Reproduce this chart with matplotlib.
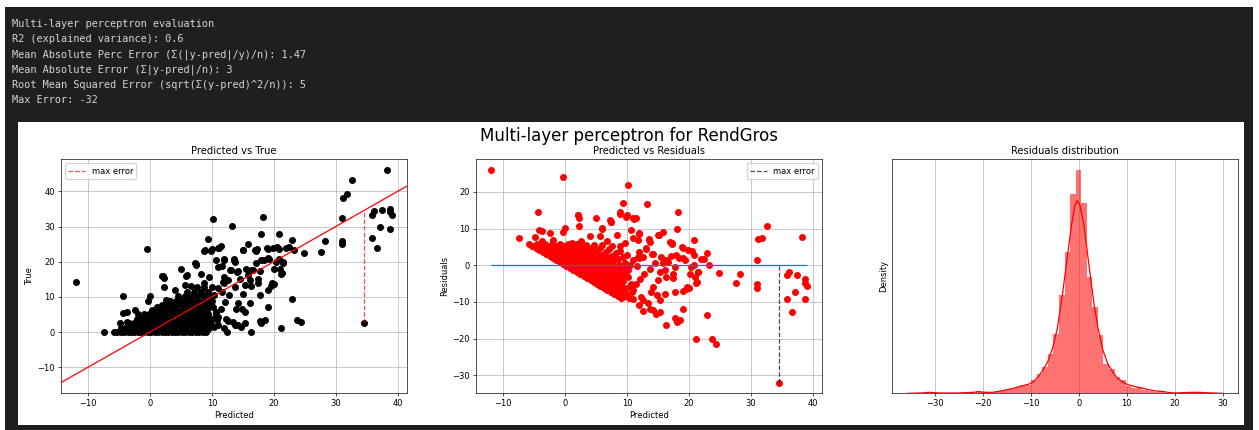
import numpy as np
import matplotlib
matplotlib.use("Agg")
import matplotlib.pyplot as plt
from matplotlib.patches import Rectangle

# ---------------- data ----------------
report_lines = [
    "Multi-layer perceptron evaluation",
    "R2 (explained variance): 0.6",
    "Mean Absolute Perc Error (\u03a3(|y-pred|/y)/n): 1.47",
    "Mean Absolute Error (\u03a3|y-pred|/n): 3",
    "Root Mean Squared Error (sqrt(\u03a3(y-pred)^2/n)): 5",
    "Max Error: -32",
]

# samples whose true value is 0 (predicted values)
pred_zero = [-7.4, -5.8, -5.3, -4.7, -4.2, -3.6, -3.1, -2.5, -2.0, -1.4, -0.9, -0.3,
             0.2, 0.8, 1.3, 1.9, 2.4, 3.0, 3.5, 4.1, 4.6, 5.2, 5.7, 6.3, 6.8, 7.4,
             7.9, 8.5, 9.0, 12.5, 16.3]

# dense cluster: true level and the predicted values found at that level
cluster_true = [1.2, 2.5, 3.8, 5.0, 6.3, 7.6, 8.9, 10.2, 11.5, 12.8, 14.0]
cluster_rows = [
    [-4.6, -4.0, -3.4, -2.8, -2.3, -1.7, -1.1, -0.5, 0.1, 0.7, 1.2, 1.8, 2.4, 3.0,
     3.6, 4.1, 4.7, 5.3, 5.9, 6.4, 7.0, 7.6, 8.2, 8.8, 9.4],
    [-3.3, -2.6, -1.9, -1.2, -0.6, 0.1, 0.8, 1.5, 2.2, 2.9, 3.6, 4.3, 5.0, 5.7, 6.4,
     7.1, 7.8, 8.5, 9.2],
    [-2.1, -1.4, -0.7, 0.0, 0.7, 1.4, 2.1, 2.8, 3.5, 4.2, 4.9, 5.6, 6.3, 7.0, 7.7,
     8.4, 9.1, 9.9],
    [-0.9, -0.2, 0.6, 1.3, 2.0, 2.8, 3.5, 4.2, 5.0, 5.7, 6.4, 7.2, 7.9, 8.6, 9.4],
    [0.4, 1.2, 2.0, 2.8, 3.6, 4.4, 5.2, 6.0, 6.8, 7.6, 8.4, 9.2],
    [1.9, 2.7, 3.6, 4.4, 5.3, 6.1, 7.0, 7.8, 8.7, 9.5],
    [3.3, 4.2, 5.1, 6.0, 6.9, 7.8, 8.7, 9.6],
    [4.6, 5.6, 6.6, 7.6, 8.6, 9.6],
    [6.0, 7.1, 8.2, 9.3, 11.6],
    [7.6, 8.8, 10.0],
    [8.8, 12.0],
]

# scattered samples (predicted, true)
scatter_pred = [
    -11.9, -0.4, 10.2, 13.3, 18.2, 32.6, 31.1, 31.8, 38.3, 31.0, 31.0, 31.0, 27.6, 28.3,
    24.8, 22.9, 23.2, 22.5, 21.5, 21.0, 21.1, 22.9, 23.7, 24.4, 21.1, 17.7, 18.5, 18.0,
    19.1, 15.3, 14.7, 34.6, 35.9, 36.2, 35.9, 36.7, 37.5, 37.2, 38.7, 38.8, 39.0, 38.7,
    9.4, 18.0, 20.8, 15.8,
    -4.4, -4.9, -4.3, -3.7, -3.7, -2.4, -1.9, -0.3, 0.0, 2.1, 2.3, 2.3, 5.0, 5.9, 7.2,
    8.9, 10.0, 11.0, 11.5, 10.7, 12.0, 15.0, 11.0, 13.6, 1.1, 2.6, 4.0, 5.6, 6.7, 8.3,
    9.6, 13.1, 14.2, 15.5, 12.6, 6.0, 7.4, 9.9, 8.8,
    11.9, 11.7, 13.5, 13.7, 13.0, 14.1, 15.1, 16.9, 17.2, 17.1, 17.9, 18.4, 19.0, 19.0,
    19.3, 19.9, 20.5, 20.9, 20.4, 20.1, 20.0, 19.5, 19.0, 17.7, 17.4, 17.8, 16.3, 16.1,
    15.3, 15.0, 14.2, 13.9, 14.8, 15.3, 13.4, 12.6, 12.3, 12.0, 13.7, 14.2, 11.0, 11.0,
    11.5, 12.1, 12.8, 13.7, 14.5, 15.8, 16.3, 9.4, 9.9, 10.7, 10.2, 9.6, 10.4, 11.0,
    11.8, 12.0,
    16.2, 16.7, 17.4, 19.7, 21.3, 21.5, 20.9, 22.0, 17.3, 18.9, 11.1, 2.0, 7.4,
    10.3, 10.6, 10.1, 10.8,
]
scatter_true = [
    14.1, 23.6, 32.2, 30.1, 32.7, 43.2, 38.2, 39.3, 46.0, 32.4, 26.0, 24.9, 22.8, 25.9,
    22.6, 26.3, 23.2, 24.2, 19.7, 17.8, 16.4, 9.3, 3.5, 3.0, 1.1, 3.2, 3.5, 2.6,
    7.1, 2.6, 1.3, 2.6, 33.2, 34.4, 26.8, 24.0, 34.8, 29.8, 35.1, 34.0, 33.4, 29.4,
    26.5, 28.0, 27.8, 25.0,
    10.2, 2.7, 5.4, 5.6, 2.9, 6.4, 5.0, 8.9, 10.2, 15.8, 15.3, 12.9, 17.8, 15.9, 19.5,
    23.3, 23.6, 24.0, 24.5, 20.4, 20.8, 23.3, 18.4, 20.5, 7.1, 9.1, 11.9, 13.5, 13.2, 16.6,
    15.6, 17.7, 17.4, 17.8, 14.9, 16.1, 19.2, 23.1, 22.9,
    20.5, 18.7, 20.7, 20.0, 17.5, 17.1, 23.3, 23.2, 22.9, 19.6, 20.6, 20.5, 23.7, 21.1,
    20.7, 24.0, 24.3, 23.7, 19.9, 17.8, 13.8, 13.1, 12.0, 10.4, 15.1, 17.3, 13.1, 14.7,
    13.5, 10.9, 8.3, 6.6, 6.6, 5.8, 3.0, 3.1, 3.7, 1.1, 1.9, 2.1, 1.9, 4.2,
    6.5, 8.5, 10.5, 12.8, 15.0, 16.3, 17.7, 0.8, 2.2, 4.8, 7.0, 8.2, 10.4, 12.4,
    14.1, 15.6,
    8.4, 17.6, 13.9, 13.9, 16.7, 19.8, 20.9, 23.8, 23.5, 23.8, 23.8, 15.8, 19.3,
    1.3, 5.6, 8.9, 3.4,
]

# residuals histogram (density per bin) and kde curve
hist_density = [
    0.0006, 0, 0, 0, 0, 0, 0, 0, 0, 0.0012, 0.0006, 0, 0.0006, 0.0012, 0.0018, 0.0024,
    0.0036, 0.0048, 0.0051, 0.0081, 0.0119, 0.0160, 0.0240, 0.0362, 0.0594, 0.0857,
    0.1210, 0.1352, 0.1154, 0.0705, 0.0523, 0.0352, 0.0180, 0.0149, 0.0099, 0.0079,
    0.0044, 0.0030, 0.0036, 0.0020, 0.0012, 0.0006, 0.0014, 0, 0, 0, 0.0006, 0, 0.0006,
    0.0006,
]
kde_x = [-35.8, -33.0, -31.3, -29.0, -25.0, -22.0, -21.0, -19.5, -18.0, -16.0, -14.0,
         -12.0, -10.5, -9.5, -8.5, -7.5, -6.5, -5.5, -4.5, -3.5, -2.5, -1.5, -0.8, -0.35,
         0.2, 1.0, 1.8, 2.5, 3.2, 4.0, 5.0, 6.0, 7.0, 8.0, 9.0, 10.0, 11.0, 12.2, 13.5,
         14.6, 16.0, 17.3, 18.5, 20.0, 22.0, 23.6, 25.0, 27.0, 30.0]
kde_y = [0.0, 0.0002, 0.0006, 0.0002, 0.0002, 0.0006, 0.0010, 0.0006, 0.0006, 0.0016,
         0.0028, 0.0044, 0.0055, 0.0071, 0.0101, 0.0141, 0.0192, 0.0273, 0.0394, 0.0586,
         0.0808, 0.1030, 0.1141, 0.1170, 0.1141, 0.1030, 0.0848, 0.0687, 0.0535, 0.0394,
         0.0263, 0.0182, 0.0131, 0.0093, 0.0071, 0.0055, 0.0046, 0.0038, 0.0030, 0.0022,
         0.0014, 0.0012, 0.0006, 0.0002, 0.0004, 0.0006, 0.0006, 0.0003, 0.0]
hist_range = (-32.0, 26.0)

# ---------------- assemble arrays ----------------
pred = np.concatenate([np.array(pred_zero, float),
                       np.concatenate([np.array(r, float) for r in cluster_rows]),
                       np.array(scatter_pred, float)])
true = np.concatenate([np.zeros(len(pred_zero)),
                       np.concatenate([np.full(len(r), t) for r, t in zip(cluster_rows, cluster_true)]),
                       np.array(scatter_true, float)])
resid = true - pred
imax = int(np.argmax(np.abs(resid)))

# ---------------- style ----------------
s = 0.6
plt.rcParams.update({
    "font.family": "DejaVu Sans",
    "font.size": 10 * s,
    "axes.titlesize": 12 * s,
    "axes.labelsize": 10 * s,
    "xtick.labelsize": 10 * s,
    "ytick.labelsize": 10 * s,
    "legend.fontsize": 10 * s,
    "axes.linewidth": 0.8 * s,
    "grid.linewidth": 0.8 * s,
    "lines.linewidth": 1.5 * s,
    "xtick.major.size": 3.5 * s, "ytick.major.size": 3.5 * s,
    "xtick.major.width": 0.8 * s, "ytick.major.width": 0.8 * s,
    "xtick.major.pad": 3.5 * s, "ytick.major.pad": 3.5 * s,
    "axes.titlepad": 6 * s,
    "axes.labelpad": 4 * s,
    "legend.frameon": True,
})

W, H = 1259, 430
fig = plt.figure(figsize=(W / 100, H / 100), dpi=100)
fig.patch.set_facecolor("white")


def bg(x0, y0, x1, y1, color):
    fig.add_artist(Rectangle((x0 / W, 1 - y1 / H), (x1 - x0) / W, (y1 - y0) / H,
                             transform=fig.transFigure, facecolor=color,
                             edgecolor="none", zorder=-10))


bg(5, 7, 1253, 431, "#1f1f1f")
bg(18, 122, 1244, 425, "white")

for i, line in enumerate(report_lines):
    fig.text(12.3 / W, 1 - (24.3 + 15.2 * i) / H, line, family="DejaVu Sans Mono",
             size=7.4, color="#d4d4d4", va="center", ha="left")


def axes_px(x0, x1, y0, y1):
    return fig.add_axes([x0 / W, 1 - y1 / H, (x1 - x0) / W, (y1 - y0) / H])


ax1 = axes_px(60.7, 406.7, 159.3, 393.3)
ax2 = axes_px(475.7, 822.3, 159.3, 393.3)
ax3 = axes_px(891.7, 1238.3, 159.3, 393.3)

fig.suptitle("Multi-layer perceptron for RendGros", fontsize=20 * s, y=1 - 136 / H, va="center")

# ---- Predicted vs True ----
ax1.scatter(pred, true, color="black", s=16, zorder=2)
ax1.set_xlim(-14.4, 41.45)
ax1.set_ylim(-17.4, 49.1)
ax1.axline((0, 0), slope=1, color="red", zorder=3)
ax1.plot([pred[imax], pred[imax]], [true[imax], pred[imax]], color="red", alpha=0.7,
         linestyle="--", label="max error", zorder=3)
ax1.grid(True)
ax1.set_axisbelow(True)
ax1.legend(loc="upper left")
ax1.set_title("Predicted vs True")
ax1.set_xlabel("Predicted")
ax1.set_ylabel("True")

# ---- Predicted vs Residuals ----
ax2.scatter(pred, resid, color="red", s=16, zorder=2)
ax2.hlines(0, pred.min(), pred.max(), color="C0", zorder=3)
ax2.plot([pred[imax], pred[imax]], [resid[imax], 0], color="black", alpha=0.7,
         linestyle="--", label="max error", zorder=3)
ax2.grid(True)
ax2.set_axisbelow(True)
ax2.legend(loc="upper right")
ax2.set_title("Predicted vs Residuals")
ax2.set_xlabel("Predicted")
ax2.set_ylabel("Residuals")

# ---- Residuals distribution ----
edges = np.linspace(hist_range[0], hist_range[1], len(hist_density) + 1)
ax3.bar(edges[:-1], hist_density, width=np.diff(edges), align="edge", color="red",
        alpha=0.55, linewidth=0)
ax3.plot(kde_x, kde_y, color="red", linewidth=0.9)
ax3.set_ylim(bottom=0)
ax3.grid(True, axis="x")
ax3.set_axisbelow(True)
ax3.set_yticks([])
ax3.set_xticks([-30, -20, -10, 0, 10, 20, 30])
ax3.set_title("Residuals distribution")
ax3.set_ylabel("Density")

fig.savefig("out.png", dpi=100, facecolor=fig.get_facecolor())
